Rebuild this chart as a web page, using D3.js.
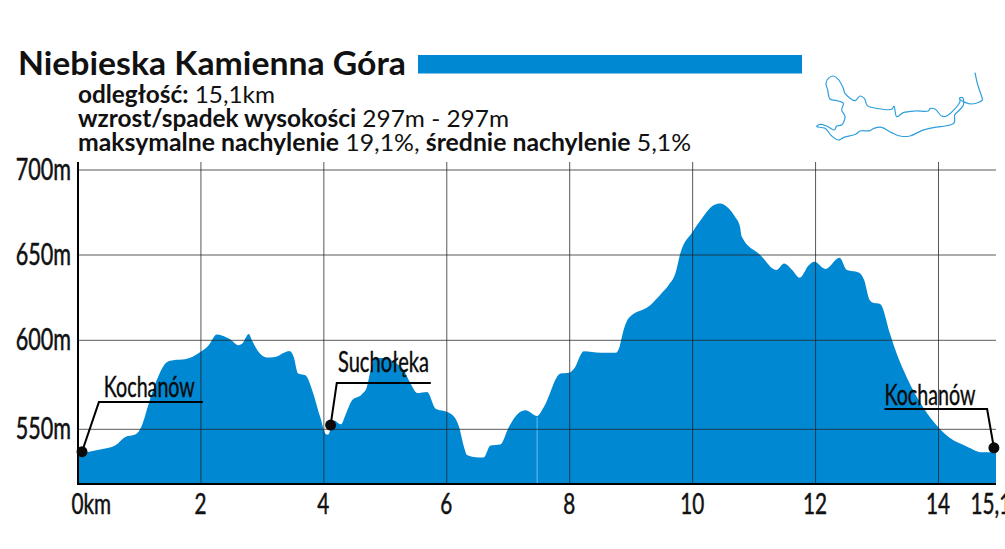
<!DOCTYPE html>
<html>
<head>
<meta charset="utf-8">
<script src="https://cdn.jsdelivr.net/npm/d3@7"></script>
<style>
  body { margin: 0; background: #fff; }
  svg { display: block; font-family: Lato, sans-serif; }
</style>
</head>
<body>
<div id="chart"></div>
<script>
// DATA
const km = [0, 0.36, 0.61, 0.77, 0.93, 1.04, 1.15, 1.28, 1.45, 1.55, 1.74, 1.99, 2.12, 2.26, 2.34, 2.48, 2.61, 2.67, 2.78, 2.83, 2.94, 3.07, 3.21, 3.35, 3.44, 3.51, 3.58, 3.7, 3.81, 3.94, 4.04,
  4.07, 4.16, 4.28, 4.35, 4.46, 4.62, 4.7, 4.76, 4.84, 4.98, 5.14, 5.3, 5.41, 5.52, 5.68, 5.82, 6.01, 6.12, 6.2, 6.28, 6.33, 6.44, 6.6, 6.71, 6.87, 7.01, 7.17, 7.28, 7.47, 7.58, 7.85, 7.99, 8.07, 8.23, 8.5, 8.75, 8.81, 8.86, 8.96,
  9.31, 9.47, 9.61, 9.72, 9.8, 10, 10.15, 10.34, 10.45, 10.56, 10.69, 10.77, 10.8, 11.1, 11.36, 11.49, 11.62, 11.74, 11.89, 11.98, 12.16, 12.39, 12.51, 12.7, 12.79, 12.88, 12.94, 13.05, 13.21, 13.27, 13.49, 13.76, 14, 14.22, 14.54, 14.83, 15.1];
const elevation = [536.3, 538.6, 541, 545.7, 547, 552.2, 564.4, 577.5, 587.8, 588.8, 589.3, 593.4, 597, 603.4, 602.8, 600.4, 597.2, 598, 603.7, 600, 593.4, 590.3, 590.6, 593, 594, 590.6, 581.3, 580.3, 572, 557, 547,
  547, 555, 552.8, 557.9, 566.3, 569.7, 573.8, 583, 590, 590, 587.8, 583, 575.7, 570.4, 571, 561.6, 559.7, 557, 551.3, 540, 535.4, 534.3, 534, 540.8, 541.4, 551.3, 559.2, 560.7, 557.5, 562.5, 581.3, 581.8, 584, 593.8, 593, 593, 596.3, 603.7, 613,
  620.6, 626.6, 632.4, 639.3, 651, 663.7, 671.5, 679.3, 680.3, 678.3, 672.5, 666.6, 660.7, 650, 641.2, 645, 641.2, 636.7, 644, 646, 641.8, 648.4, 641.2, 639.8, 635.4, 623.6, 622, 621.3, 604, 597.4, 578.7, 561.8, 551, 545, 540.3, 537, 536.9];

const xTicks = [0, 2, 4, 6, 8, 10, 12, 14, 15.1];
const xTickLabels = ["0km", "2", "4", "6", "8", "10", "12", "14", "15,1"];
const yTicks = [550, 600, 650, 700];

const placeNames = ["Kochanów", "Suchołęka", "Kochanów"];
const placeKm = [0.065, 4.11, 15.06];
const placeM = [537.3, 552.4, 539.5];
const elbowKm = [0.34, 4.21, 14.93];
const elbowM = [565.3, 576, 561.4];
const leaderEndKm = [2.03, 5.74, 13.12];
const labelKm = [0.42, 4.23, 13.12];
const labelM = [568.2, 582.2, 563.7];

const seamKm = 7.47;

// little route map, in its own units
const routeX = [585, 592, 600, 607, 600, 575, 555, 538, 548, 550, 530, 524, 523, 510, 460, 425, 390, 360, 335, 305, 280, 270, 240, 228, 190, 175, 155, 135, 110, 120, 140, 163, 170, 185, 195, 185, 190, 175, 150, 143, 138, 145, 160, 175, 190, 195, 225, 240, 253, 262, 290, 335, 342, 350, 370, 405, 445, 450, 465, 485, 500, 540, 538];
const routeY = [68, 100, 125, 150, 155, 162, 157, 145, 143, 165, 188, 195, 218, 225, 233, 242, 258, 258, 248, 232, 236, 242, 243, 252, 263, 270, 258, 235, 230, 223, 228, 240, 228, 225, 200, 180, 160, 153, 147, 120, 100, 85, 78, 88, 115, 130, 152, 138, 145, 167, 175, 178, 168, 200, 188, 183, 183, 176, 177, 198, 198, 155, 145];

const blue = "#0088d2";
const width = 1005;
const height = 549;

const svg = d3.select("#chart").append("svg").attr("width", width).attr("height", height);

// the printed axes are not quite even, so both scales are piecewise
const x = d3.scaleLinear().domain([0, 14, 15.1]).range([78, 938.5, 996]);
const y = d3.scaleLinear().domain([519, 550, 600, 650, 700]).range([484, 429.3, 340.3, 255, 170]);

// squeeze text to look like the condensed face of the original
function squeeze(sel, k) {
  sel.each(function () {
    d3.select(this)
      .attr("lengthAdjust", "spacingAndGlyphs")
      .attr("textLength", this.getComputedTextLength() * k);
  });
}

// AREA
const area = d3.area()
  .x((d, i) => x(km[i]))
  .y0(y(519))
  .y1((d) => y(d))
  .curve(d3.curveMonotoneX);

svg.append("path").attr("d", area(elevation)).attr("fill", blue);

svg.append("line")
  .attr("x1", x(seamKm)).attr("x2", x(seamKm))
  .attr("y1", y(557)).attr("y2", y(519))
  .attr("stroke", "#6cbdea").attr("stroke-width", 1);

// GRID + AXES
const yAxis = svg.append("g")
  .attr("transform", "translate(" + x(0) + ",0)")
  .call(d3.axisLeft(y).tickValues(yTicks).tickFormat((d) => d + "m").tickSize(0).tickPadding(7));
yAxis.select(".domain").remove();
yAxis.selectAll("text")
  .attr("font-size", 30).attr("font-family", "Lato").attr("fill", "#111")
  .attr("stroke", "#111").attr("stroke-width", 0.5)
  .call(squeeze, 0.72);

svg.append("g").selectAll("line").data(yTicks).join("line")
  .attr("x1", x(0)).attr("x2", x(15.1))
  .attr("y1", (d) => y(d)).attr("y2", (d) => y(d))
  .attr("stroke", "#222").attr("stroke-opacity", 0.75).attr("stroke-width", 1);

svg.append("g").selectAll("line").data(xTicks.slice(1, -1)).join("line")
  .attr("x1", (d) => x(d)).attr("x2", (d) => x(d))
  .attr("y1", 162).attr("y2", y(519))
  .attr("stroke", "#222").attr("stroke-opacity", 0.75).attr("stroke-width", 1);

const xAxis = svg.append("g")
  .attr("transform", "translate(0," + y(519) + ")")
  .call(d3.axisBottom(x).tickValues(xTicks).tickFormat((d, i) => xTickLabels[i]).tickSize(0).tickPadding(10));
xAxis.select(".domain").remove();
xAxis.selectAll("text")
  .attr("font-size", 28).attr("font-family", "Lato").attr("fill", "#111")
  .attr("stroke", "#111").attr("stroke-width", 0.5)
  .call(squeeze, 0.74);
// first and last labels sit inside their ticks in the original
xAxis.selectAll("text").filter((d) => d === 0).attr("text-anchor", "start").attr("x", -7);
xAxis.selectAll("text").filter((d) => d === 15.1).attr("text-anchor", "start").attr("x", -26);
xAxis.selectAll("text").filter((d) => d !== 0 && d !== 15.1).attr("dx", -1);

svg.append("line")
  .attr("x1", x(0)).attr("x2", x(15.1)).attr("y1", y(519)).attr("y2", y(519))
  .attr("stroke", "#000").attr("stroke-width", 2.2);
svg.append("line")
  .attr("x1", x(0)).attr("x2", x(0)).attr("y1", 162).attr("y2", y(519) + 1)
  .attr("stroke", "#000").attr("stroke-width", 2);

// CALLOUTS
placeNames.forEach((name, i) => {
  svg.append("path")
    .attr("d", d3.line()([
      [x(placeKm[i]), y(placeM[i])],
      [x(elbowKm[i]), y(elbowM[i])],
      [x(leaderEndKm[i]), y(elbowM[i])],
    ]))
    .attr("fill", "none").attr("stroke", "#000").attr("stroke-width", 2);
  svg.append("circle")
    .attr("cx", x(placeKm[i])).attr("cy", y(placeM[i])).attr("r", 5.5).attr("fill", "#0a0a0a");
  svg.append("text")
    .attr("x", x(labelKm[i])).attr("y", y(labelM[i]))
    .attr("font-size", 29).attr("fill", "#0a0a0a")
    .attr("stroke", "#0a0a0a").attr("stroke-width", 0.4)
    .attr("textLength", 91).attr("lengthAdjust", "spacingAndGlyphs")
    .text(name);
});

// HEADER
svg.append("text").attr("x", 18).attr("y", 75)
  .attr("font-size", 33).attr("font-weight", 700).attr("fill", "#111")
  .attr("textLength", 388).attr("lengthAdjust", "spacingAndGlyphs")
  .text("Niebieska Kamienna Góra");

svg.append("rect").attr("x", 418).attr("y", 55).attr("width", 384).attr("height", 18.5).attr("fill", blue);

const info = [
  { y: 103, w: 197, parts: [["odległość:", 700], [" 15,1km", 400]] },
  { y: 127, w: 431, parts: [["wzrost/spadek wysokości", 700], [" 297m - 297m", 400]] },
  { y: 151, w: 613, parts: [["maksymalne nachylenie", 700], [" 19,1%, ", 400], ["średnie nachylenie", 700], [" 5,1%", 400]] },
];
info.forEach((row) => {
  const t = svg.append("text").attr("x", 78).attr("y", row.y)
    .attr("font-size", 24).attr("fill", "#111")
    .attr("textLength", row.w).attr("lengthAdjust", "spacingAndGlyphs");
  row.parts.forEach((p) => {
    t.append("tspan").attr("font-weight", p[1]).style("white-space", "pre").text(p[0]);
  });
});

// ROUTE MAP
const mapX = d3.scaleLinear().domain([0, 675]).range([780, 1005]);
const mapY = d3.scaleLinear().domain([0, 360]).range([50, 170]);
svg.append("path")
  .attr("d", d3.line().x((d) => mapX(d)).y((d, i) => mapY(routeY[i])).curve(d3.curveCatmullRom)(routeX))
  .attr("fill", "none").attr("stroke", "#2f9fdc").attr("stroke-width", 1.2);
</script>
</body>
</html>
